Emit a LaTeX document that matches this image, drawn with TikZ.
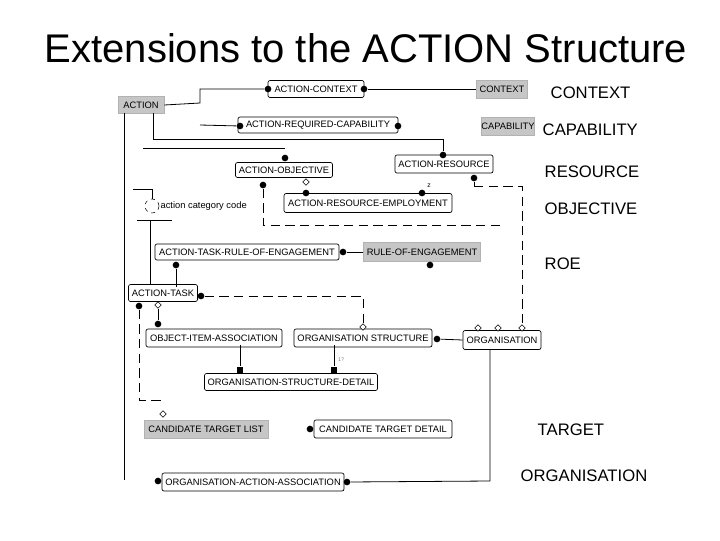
\documentclass[tikz,border=0pt]{standalone}
\usepackage{fontspec}
\setmainfont{Liberation Sans}
\usetikzlibrary{shapes.geometric}
\begin{document}
\begin{tikzpicture}[x=0.75pt,y=-0.75pt,
 ent/.style={draw,rounded corners=1.5pt,line width=0.5pt,fill=white,font=\fontsize{7}{8}\selectfont,inner sep=0pt},
 gent/.style={draw=gray!60,fill=gray!45,font=\fontsize{7}{8}\selectfont,inner sep=0pt},
 rl/.style={anchor=west,font=\fontsize{12.5}{14}\selectfont},
 ln/.style={line width=0.6pt},
 dl/.style={line width=0.6pt,dash pattern=on 7pt off 4pt},
 dot/.style={circle,fill=black,inner sep=0pt,minimum size=5pt},
 dia/.style={diamond,draw,fill=white,inner sep=0pt,minimum size=5pt,line width=0.4pt}]
\useasboundingbox (0,0) rectangle (720,540);
\node (title) at (366,48) {\fontsize{30}{34}\selectfont Extensions to the ACTION Structure};
% entities
\node[gent,minimum width=34.5pt,minimum height=12.75pt] (action) at (141,105) {ACTION};
\node[ent,minimum width=72pt,minimum height=12.75pt] (actx) at (316,89) {ACTION-CONTEXT};
\node[gent,minimum width=38pt,minimum height=13.5pt] (context) at (502,89) {CONTEXT};
\node[ent,minimum width=120pt,minimum height=12pt] (arc) at (318,125) {ACTION-REQUIRED-CAPABILITY};
\node[gent,minimum width=26pt,minimum height=13.5pt] (cap) at (508,126) {CAPABILITY};
\node[ent,minimum width=72.75pt,minimum height=11.25pt] (aobj) at (284,170) {ACTION-OBJECTIVE};
\node[ent,minimum width=73.5pt,minimum height=13.5pt] (ares) at (444,164) {ACTION-RESOURCE};
\node[ent,minimum width=126pt,minimum height=14.25pt] (are) at (368,203) {ACTION-RESOURCE-EMPLOYMENT};
\node[circle,draw,dashed,minimum size=10.5pt,inner sep=0pt] (acc) at (152,206) {};
\node[anchor=west,font=\fontsize{7}{8}\selectfont,inner sep=1pt] (acct) at (159,206) {action category code};
\node[ent,minimum width=138pt,minimum height=12pt] (atroe) at (247,252) {ACTION-TASK-RULE-OF-ENGAGEMENT};
\node[gent,minimum width=87.75pt,minimum height=14.25pt] (roe) at (422,252) {RULE-OF-ENGAGEMENT};
\node[ent,minimum width=51.75pt,minimum height=12.75pt] (at) at (163,293) {ACTION-TASK};
\node[ent,minimum width=102pt,minimum height=13.5pt] (oia) at (214,338) {OBJECT-ITEM-ASSOCIATION};
\node[ent,minimum width=103.5pt,minimum height=13.5pt] (ost) at (363,338) {ORGANISATION STRUCTURE};
\node[ent,minimum width=58.5pt,minimum height=14.25pt] (org) at (502,340) {ORGANISATION};
\node[ent,minimum width=129.75pt,minimum height=12.75pt] (osd) at (291,382) {ORGANISATION-STRUCTURE-DETAIL};
\node[gent,minimum width=93pt,minimum height=13.5pt] (ctl) at (206,429) {CANDIDATE TARGET LIST};
\node[ent,minimum width=103.5pt,minimum height=13.5pt] (ctd) at (383,429) {CANDIDATE TARGET DETAIL};
\node[ent,minimum width=136.5pt,minimum height=13.5pt] (oaa) at (253,482) {ORGANISATION-ACTION-ASSOCIATION};
% right labels
\node[rl] (l1) at (546,93) {CONTEXT};
\node[rl] (l2) at (538,130) {CAPABILITY};
\node[rl] (l3) at (540,172) {RESOURCE};
\node[rl] (l4) at (540,209) {OBJECTIVE};
\node[rl] (l5) at (540,264) {ROE};
\node[rl] (l6) at (533,430) {TARGET};
\node[rl] (l7) at (516,476) {ORGANISATION};
% connectors
\coordinate (c1) at (200,103); \coordinate (c2) at (200,89);
\node[dot] (d1) at (268,89) {}; \node[dot] (d2) at (364,89) {};
\draw[ln] (action.east) -- (c1) -- (c2) -- (d1);
\draw[ln] (d2) -- (context.west);
\coordinate (c3) at (200,125);
\node[dot] (d3) at (240,126) {}; \node[dot] (d4) at (398,126) {};
\draw[ln] (c3) -- (d3);
\coordinate (c4) at (153,113); \coordinate (c5) at (153,139); \coordinate (c6) at (443,139);
\node[dot] (d5) at (443,155) {};
\draw[ln] (c4) -- (c5) -- (c6) -- (d5);
\coordinate (c7) at (143,148); \coordinate (c8) at (285,148);
\draw[ln] (c7) -- (c8);
\node[dot] (d6) at (285,158) {};
\node[dot] (d7) at (263,185) {};
\node[dia] (m1) at (306,182) {};
\node[dot] (d8) at (306,193) {};
\node[dot] (d9) at (422,193) {};
\node[font=\fontsize{5}{6}\selectfont] (z) at (429,186) {z};
\node[dot] (d10) at (474,178) {};
\coordinate (c9) at (474,186); \coordinate (c10) at (522,186);
\node[dia] (m2) at (522,328) {};
\draw[ln] (d10) -- (c9);
\draw[dl] (c9) -- (c10) -- (m2);
\coordinate (c11) at (263,225); \coordinate (c12) at (500,225);
\draw[dl] (d7) -- (c11) -- (c12);
\coordinate (c13) at (133,189); \coordinate (c14) at (152,189);
\draw[ln] (c13) -- (c14) -- (acc.north);
\coordinate (c15) at (137,220); \coordinate (c16) at (172,220); \coordinate (c17) at (150,220);
\draw[ln] (c15) -- (c16);
\draw[ln] (c17) -- (c17 |- at.north);
\coordinate (c18) at (124,113);
\coordinate (c19) at (124,480);
\draw[ln] (c18) -- (c19);
\node[dot] (d11) at (176,265) {};
\draw[ln] (d11) -- (176,286.5);
\node[dot] (d12) at (343,252) {};
\draw[ln] (d12) -- (roe.west);
\node[dot] (d13) at (430,265) {};
\node[dot] (d14) at (201,296) {};
\coordinate (c20) at (363,296);
\node[dia] (m3) at (363,327) {};
\draw[dl] (d14) -- (c20) -- (m3);
\node[dot] (d15) at (139,306) {};
\node[dia] (m4) at (158,305) {};
\node[dot] (d16) at (158,324) {};
\draw[ln] (m4) -- (d16);
\coordinate (c21) at (139,400); \coordinate (c22) at (163,400);
\draw[dl] (d15) -- (c21) -- (c22);
\node[dia] (m5) at (163,414) {};
\node[fill=black,inner sep=0pt,minimum size=5pt] (s1) at (240,370) {};
\draw[ln] (240,344.8) -- (s1);
\node[fill=black,inner sep=0pt,minimum size=5pt] (s2) at (334,370) {};
\draw[ln] (334,344.8) -- (s2);
\node[font=\fontsize{4}{5}\selectfont,text=gray] (q) at (341,360) {1?};
\node[dot] (d17) at (437,339) {};
\draw[ln] (d17) -- (org.west);
\node[dia] (m6) at (478,328) {};
\node[dia] (m7) at (498,328) {};
\coordinate (c23) at (490,481);
\node[dot] (d18) at (347,482) {};
\draw[ln] (org.south -| c23) -- (c23) -- (d18);
\node[dot] (d19) at (158,481) {};
\node[dot] (d20) at (310,429) {};
\end{tikzpicture}
\end{document}
